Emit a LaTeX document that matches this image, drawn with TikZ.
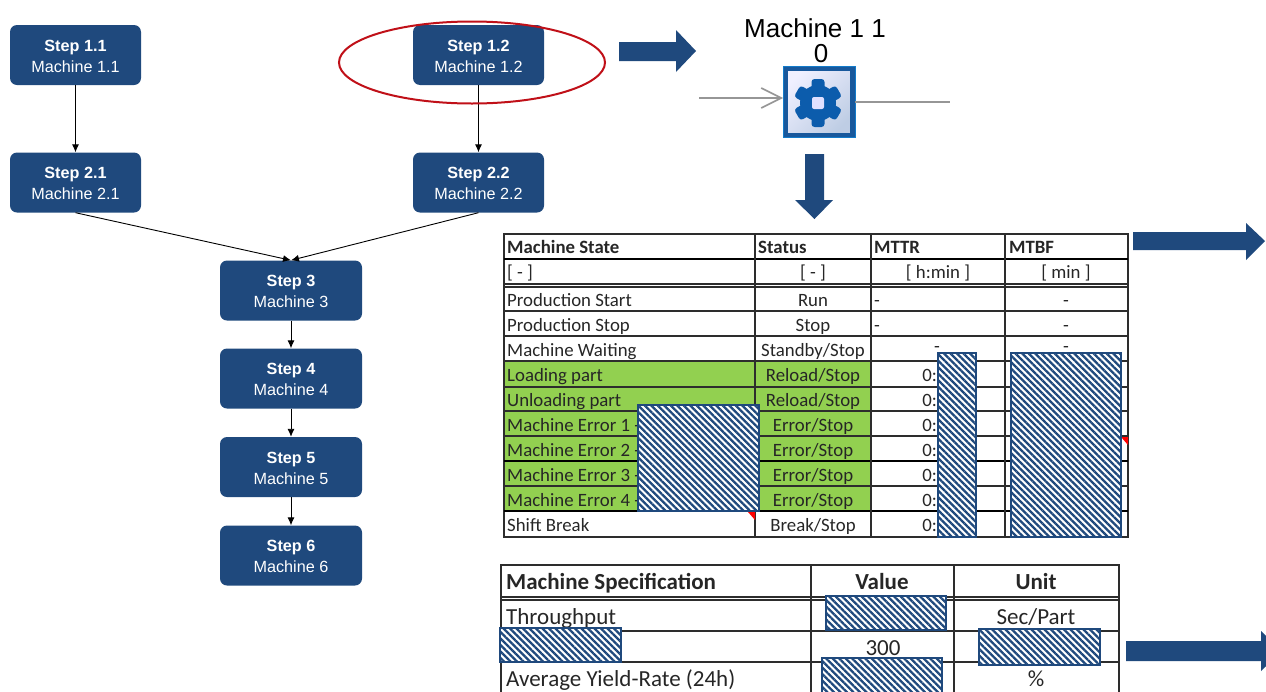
\documentclass[tikz,border=0pt]{standalone}
\usepackage{fontspec}
\setmainfont{Liberation Sans}
\newfontfamily\calibri{Carlito}
\usepackage{xcolor}
\definecolor{ColBlue}{RGB}{31,73,125}
\definecolor{ColRed}{RGB}{192,16,24}
\definecolor{ColGreen}{RGB}{146,208,80}
\definecolor{ColLine}{RGB}{45,45,45}
\definecolor{ColGray}{RGB}{150,150,150}
\definecolor{ColGear}{RGB}{12,92,172}
\definecolor{ColFrame}{RGB}{24,88,156}
\definecolor{ColPale}{RGB}{190,205,228}
\usetikzlibrary{shapes}
\usetikzlibrary{arrows.meta}
\usetikzlibrary{patterns.meta}
\newcommand{\StepLabel}[2]{\rule{0pt}{14pt}\textbf{#1}\\#2}
\tikzstyle{StepNode}=[rectangle,rounded corners=7pt,fill=ColBlue,text=white,align=center,
minimum height=60pt,inner sep=0pt,font=\fontsize{16.2}{21}\selectfont]
\tikzstyle{Edge}=[draw=black,line width=.9pt,-{Latex[length=8pt,width=7pt]}]
\tikzstyle{BlockArrow}=[fill=ColBlue]
\tikzstyle{Hatch}=[draw=ColBlue,line width=1.6pt,preaction={fill=white},
pattern={Lines[angle=-45,distance=4.6pt,line width=2.3pt]},pattern color=ColBlue]
\tikzstyle{Grid}=[draw=ColLine,line width=1.2pt]
\tikzstyle{GridThick}=[draw=black,line width=2pt]
\tikzstyle{Cell}=[inner sep=0pt,text height=14pt,text depth=2pt,text=black!85,
font=\calibri\fontsize{18.8}{19}\selectfont]
\tikzstyle{CellL}=[Cell,anchor=west]
\tikzstyle{CellBold}=[Cell,font=\calibri\bfseries\fontsize{18.8}{19}\selectfont]
\tikzstyle{SpecCell}=[inner sep=0pt,text height=17pt,text depth=3pt,text=black!85,
font=\calibri\fontsize{23}{23}\selectfont]
\tikzstyle{SpecBold}=[SpecCell,font=\calibri\bfseries\fontsize{23}{23}\selectfont]
\tikzstyle{Wire}=[draw=ColGray,line width=1.8pt]
\tikzstyle{Tooth}=[fill=ColGear,rounded corners=3pt]
\begin{document}
\begin{tikzpicture}[x=1pt,y=-1pt]
    \useasboundingbox (0,0) rectangle (1266,691);
    \clip (0,0) rectangle (1266,691);
    % flow of steps
    \node[StepNode,minimum width=131pt](s11)at(75.5,55){\StepLabel{Step 1.1}{Machine 1.1}};
    \node[StepNode,minimum width=131pt](s12)at(478.5,55){\StepLabel{Step 1.2}{Machine 1.2}};
    \node[StepNode,minimum width=131pt](s21)at(75.5,182.5){\StepLabel{Step 2.1}{Machine 2.1}};
    \node[StepNode,minimum width=131pt](s22)at(478.5,182.5){\StepLabel{Step 2.2}{Machine 2.2}};
    \node[StepNode,minimum width=142pt](s3)at(291,290.5){\StepLabel{Step 3}{Machine 3}};
    \node[StepNode,minimum width=142pt](s4)at(291,378.5){\StepLabel{Step 4}{Machine 4}};
    \node[StepNode,minimum width=142pt](s5)at(291,467){\StepLabel{Step 5}{Machine 5}};
    \node[StepNode,minimum width=142pt](s6)at(291,555.5){\StepLabel{Step 6}{Machine 6}};
    \draw[Edge](s11)--(s21);
    \draw[Edge](s12)--(s22);
    \draw[Edge](s21.south)--(s3.north);
    \draw[Edge](s22.south)--(s3.north);
    \draw[Edge](s3)--(s4);
    \draw[Edge](s4)--(s5);
    \draw[Edge](s5)--(s6);
    \node[ellipse,draw=ColRed,line width=2pt,minimum width=266pt,minimum height=82pt,inner sep=0pt](mark)at(472,62.5){};
    % block arrows
    \fill[BlockArrow](619,42)--(676,42)--(676,30)--(696,51)--(676,72)--(676,61)--(619,61)--cycle;
    \fill[BlockArrow](805,154)--(824,154)--(824,200)--(833,200)--(814.5,219)--(795,200)--(805,200)--cycle;
    \fill[BlockArrow](1133,232)--(1246,232)--(1246,223)--(1265,241)--(1246,260)--(1246,250)--(1133,250)--cycle;
    \fill[BlockArrow](1126,641)--(1261,641)--(1261,631)--(1282,651)--(1261,671)--(1261,661)--(1126,661)--cycle;
    % machine symbol
    \node[font=\fontsize{26}{26}\selectfont,inner sep=0pt](mname)at(815,28){Machine 1 1};
    \node[font=\fontsize{26}{26}\selectfont,inner sep=0pt](mcount)at(821,54){0};
    \node[rectangle,draw=ColFrame,line width=5pt,left color=white!94!blue,right color=ColPale,shading angle=45,
    minimum size=67pt,inner sep=0pt](mbox)at(819,101.5){};
    \draw[draw=cyan!60!blue,line width=1pt](783,66) rectangle (855,137);
    \coordinate(win)at(699,98);
    \coordinate(wout)at(950,102);
    \draw[Wire,-{Straight Barb[length=20pt,width=20pt,line width=1.6pt]}](win)--(mbox.west|-win);
    \draw[Wire](mbox.east|-wout)--(wout);
    \fill[ColGear](818,103) circle (18pt);
    \fill[Tooth,rotate around={90:(818,103)}](794,96.5) rectangle (842,109.5);
    \fill[Tooth,rotate around={30:(818,103)}](794,96.5) rectangle (842,109.5);
    \fill[Tooth,rotate around={-30:(818,103)}](794,96.5) rectangle (842,109.5);
    \fill[blue!12!white,rounded corners=2pt](812,97) rectangle (824,109);
    % machine state table
    \fill[ColGreen](505,361) rectangle (871,511);
    \draw[Grid](504,234) rectangle (1128,537);
    \draw[GridThick](504,259)--(1128,259);
    \draw[Grid](504,284)--(1128,284);
    \draw[Grid](504,287)--(1128,287);
    \draw[Grid](504,311)--(1128,311);
    \draw[Grid](504,336)--(1128,336);
    \draw[Grid](504,361)--(1128,361);
    \draw[Grid](504,387)--(1128,387);
    \draw[Grid](504,411)--(1128,411);
    \draw[Grid](504,436)--(1128,436);
    \draw[GridThick](504,461)--(1128,461);
    \draw[Grid](504,486)--(1128,486);
    \draw[GridThick](504,511)--(1128,511);
    \draw[Grid](755,234)--(755,537);
    \draw[Grid](871,234)--(871,537);
    \draw[Grid](1005,234)--(1005,537);
    \fill[red](748,512)--(755,512)--(755,520)--cycle;
    \fill[red](1121,437)--(1128,437)--(1128,445)--cycle;
    \node[CellBold,anchor=west](h1)at(507,247){Machine State};
    \node[CellBold,anchor=west](h2)at(758,247){Status};
    \node[CellBold,anchor=west](h3)at(874,247){MTTR};
    \node[CellBold,anchor=west](h4)at(1009,247){MTBF};
    \node[CellL](u1)at(507,272){[ - ]};
    \node[Cell](u2)at(813,272){[ - ]};
    \node[Cell](u3)at(938,272){[ h:min ]};
    \node[Cell](u4)at(1066,272){[ min ]};
    \node[CellL](a1)at(507,300){Production Start};
    \node[CellL](a2)at(507,325){Production Stop};
    \node[CellL](a3)at(507,350){Machine Waiting};
    \node[CellL](a4)at(507,375){Loading part};
    \node[CellL](a5)at(507,400){Unloading part};
    \node[CellL](a6)at(507,425){Machine Error 1 -};
    \node[CellL](a7)at(507,450){Machine Error 2 -};
    \node[CellL](a8)at(507,475){Machine Error 3 -};
    \node[CellL](a9)at(507,500){Machine Error 4 -};
    \node[CellL](a10)at(507,525){Shift Break};
    \node[Cell](b1)at(813,300){Run};
    \node[Cell](b2)at(813,325){Stop};
    \node[Cell](b3)at(813,350){Standby/Stop};
    \node[Cell](b4)at(813,375){Reload/Stop};
    \node[Cell](b5)at(813,400){Reload/Stop};
    \node[Cell](b6)at(813,425){Error/Stop};
    \node[Cell](b7)at(813,450){Error/Stop};
    \node[Cell](b8)at(813,475){Error/Stop};
    \node[Cell](b9)at(813,500){Error/Stop};
    \node[Cell](b10)at(813,525){Break/Stop};
    \node[CellL](c1)at(874,300){-};
    \node[CellL](c2)at(874,325){-};
    \node[Cell](c3)at(937,346){-};
    \node[Cell,anchor=east](c4)at(937,375){0:};
    \node[Cell,anchor=east](c5)at(937,400){0:};
    \node[Cell,anchor=east](c6)at(937,425){0:};
    \node[Cell,anchor=east](c7)at(937,450){0:};
    \node[Cell,anchor=east](c8)at(937,475){0:};
    \node[Cell,anchor=east](c9)at(937,500){0:};
    \node[Cell,anchor=east](c10)at(937,525){0:};
    \node[Cell](d1)at(1066,300){-};
    \node[Cell](d2)at(1066,325){-};
    \node[Cell](d3)at(1066,346){-};
    \draw[Hatch](638,405) rectangle (759,511);
    \draw[Hatch](938,353) rectangle (976,537);
    \draw[Hatch](1011,353) rectangle (1121,537);
    % machine specification table
    \draw[Grid](501,565) rectangle (1119,700);
    \draw[Grid](501,597)--(1119,597);
    \draw[Grid](501,600)--(1119,600);
    \draw[Grid](501,631)--(1119,631);
    \draw[Grid](501,662)--(1119,662);
    \draw[Grid](811,565)--(811,700);
    \draw[Grid](954,565)--(954,700);
    \node[SpecBold,anchor=west](sh1)at(506,582){Machine Specification};
    \node[SpecBold](sh2)at(882,582){Value};
    \node[SpecBold](sh3)at(1036,582){Unit};
    \node[SpecCell,anchor=west](sa1)at(506,617){Throughput};
    \node[SpecCell,anchor=west](sa3)at(506,679){Average Yield-Rate (24h)};
    \node[SpecCell](sb2)at(883,648){300};
    \node[SpecCell](sc1)at(1036,617){Sec/Part};
    \node[SpecCell](sc3)at(1036,679){\%};
    \draw[Hatch](826,596) rectangle (946,630);
    \draw[Hatch](500,628) rectangle (621,662);
    \draw[Hatch](979,629) rectangle (1100,665);
    \draw[Hatch](822,658) rectangle (942,700);
\end{tikzpicture}
\end{document}
